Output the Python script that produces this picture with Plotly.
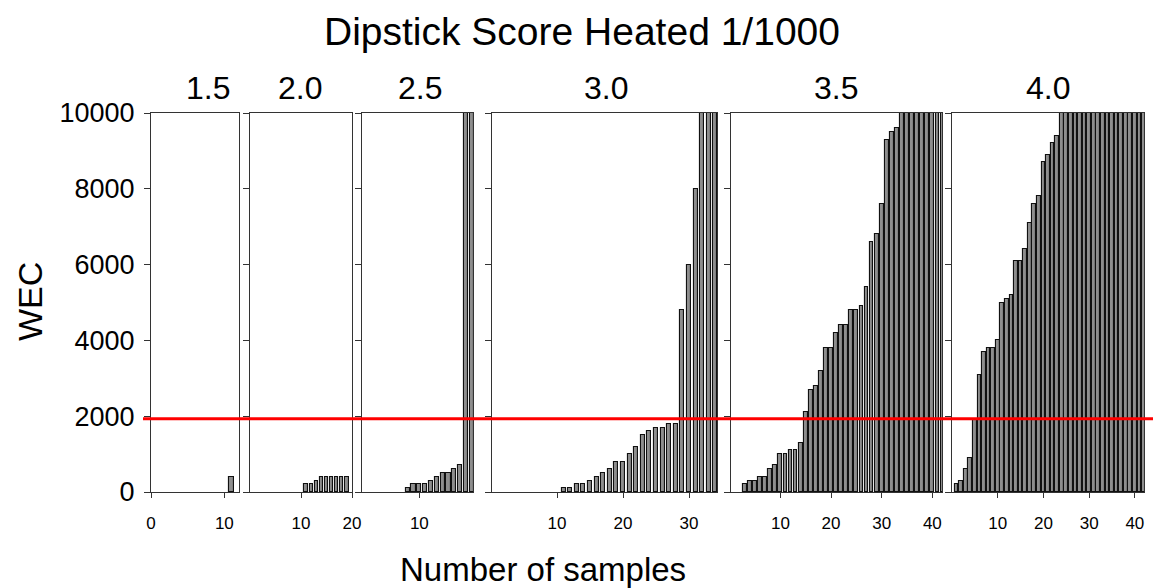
import plotly.graph_objects as go

W, H = 1153, 588

# ---------------- data ----------------
panel_titles = ["1.5", "2.0", "2.5", "3.0", "3.5", "4.0"]

wec_15 = [0] * 10 + [400]
wec_20 = [0] * 10 + [200, 200, 300, 400, 400, 400, 400, 400, 400]
wec_25 = [0] * 7 + [100, 200, 200, 200, 300, 400, 500, 500, 600, 700, 10000, 10000]
wec_30 = [0] * 10 + [100, 100, 200, 200, 300, 400, 500, 600, 800, 800, 1000, 1200,
                     1500, 1600, 1700, 1700, 1800, 1800, 4800, 6000, 8000,
                     10000, 10000, 10000]
wec_35 = [0] * 2 + [200, 300, 300, 400, 400, 600, 700, 1000, 1000, 1100, 1100, 1300,
                    2100, 2700, 2800, 3200, 3800, 3800, 4200, 4400, 4400, 4800, 4800,
                    4900, 5400, 6600, 6800, 7600, 9300, 9500, 9600] + [10000] * 9
wec_40 = [200, 300, 600, 900, 1900, 3100, 3700, 3800, 3800, 4000, 5000, 5100, 5200,
          6100, 6100, 6400, 7100, 7600, 7800, 8700, 8900, 9200, 9400] + [10000] * 19

panel_values = [wec_15, wec_20, wec_25, wec_30, wec_35, wec_40]

x_tickvals = [[0, 10], [10, 20], [10], [10, 20, 30], [10, 20, 30, 40], [10, 20, 30, 40]]
y_tickvals = [0, 2000, 4000, 6000, 8000, 10000]
threshold = 1930

# ---------------- layout / style ----------------
panel_px = [(151, 239), (250, 352), (362, 473), (492, 717), (731, 942), (952, 1144)]
x_ranges = [[0, 12.0], [0, 20], [0.17, 19.2], [0.15, 34.24], [0.25, 41.9], [0, 42]]
bar_widths = [0.75, 0.65, 0.7, 0.62, 0.75, 0.8]
title_px = [208, 300, 420, 606, 836, 1048]
plot_top, plot_bot = 113, 492
font_fam = "Arial, Liberation Sans, sans-serif"
frame_col = "#333333"

fig = go.Figure()
layout = dict(
    template="none",
    width=W, height=H,
    margin=dict(l=0, r=0, t=0, b=0, pad=0, autoexpand=False),
    paper_bgcolor="white", plot_bgcolor="white",
    showlegend=False, bargap=0,
    font=dict(family=font_fam, color="black"),
)

ydom = [1 - plot_bot / H, 1 - plot_top / H]
for i, vals in enumerate(panel_values):
    k = "" if i == 0 else str(i + 1)
    xs = list(range(1, len(vals) + 1))
    fig.add_trace(go.Bar(
        x=xs, y=vals, width=bar_widths[i],
        marker=dict(color="#8e8e8e",
                    line=dict(color="#111111", width=[1.1 if v > 0 else 0 for v in vals])),
        xaxis="x" + k, yaxis="y" + k, hoverinfo="skip",
    ))
    l, r = panel_px[i]
    layout["xaxis" + k] = dict(
        domain=[l / W, r / W], range=x_ranges[i], anchor="y" + k,
        automargin=False,
        showgrid=False, zeroline=False, showline=True, mirror=True,
        linecolor=frame_col, linewidth=1,
        ticks="outside", ticklen=5, tickcolor=frame_col, tickwidth=1,
        tickvals=x_tickvals[i], ticktext=[str(v) for v in x_tickvals[i]],
        tickfont=dict(size=17, family=font_fam, color="black"),
        ticklabelstandoff=11, fixedrange=True,
    )
    layout["yaxis" + k] = dict(
        domain=ydom, range=[0, 10000], anchor="x" + k,
        automargin=False,
        showgrid=False, zeroline=False, showline=True, mirror=True,
        linecolor=frame_col, linewidth=1,
        ticks="outside", ticklen=6, tickcolor=frame_col, tickwidth=1,
        tickvals=y_tickvals, ticktext=[str(v) for v in y_tickvals],
        showticklabels=(i == 0),
        tickfont=dict(size=27, family=font_fam, color="black"),
        ticklabelstandoff=4, fixedrange=True,
    )

annotations = []
for t, px in zip(panel_titles, title_px):
    annotations.append(dict(
        text=t, x=px / W, y=1 - 88 / H, xref="paper", yref="paper",
        xanchor="center", yanchor="middle", showarrow=False,
        font=dict(size=32, family=font_fam, color="black"),
    ))
annotations.append(dict(
    text="Dipstick Score Heated 1/1000", x=582 / W, y=1 - 31 / H,
    xref="paper", yref="paper", xanchor="center", yanchor="middle",
    showarrow=False, font=dict(size=39, family=font_fam, color="black"),
))
annotations.append(dict(
    text="WEC", x=30 / W, y=1 - 302 / H, xref="paper", yref="paper",
    xanchor="center", yanchor="middle", textangle=-90, showarrow=False,
    font=dict(size=34, family=font_fam, color="black"),
))
annotations.append(dict(
    text="Number of samples", x=543 / W, y=1 - 569 / H, xref="paper", yref="paper",
    xanchor="center", yanchor="middle", showarrow=False,
    font=dict(size=33, family=font_fam, color="black"),
))
layout["annotations"] = annotations
layout["shapes"] = [dict(
    type="line", xref="paper", yref="y", x0=143 / W, x1=1.0,
    y0=threshold, y1=threshold, line=dict(color="#ff0000", width=3), layer="above",
)]

fig.update_layout(**layout)
fig.write_html("out.html")
